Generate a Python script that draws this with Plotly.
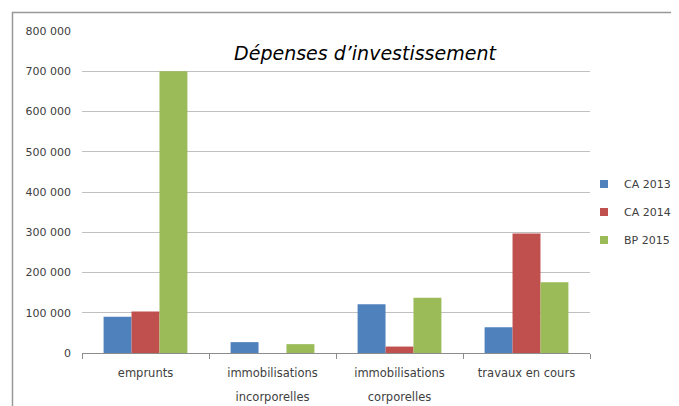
import plotly.graph_objects as go

categories = ["emprunts", "immobilisations incorporelles", "immobilisations corporelles", "travaux en cours"]
category_labels = ["emprunts", "immobilisations<br><br>incorporelles", "immobilisations<br><br>corporelles", "travaux en cours"]
series_names = ["CA 2013", "CA 2014", "BP 2015"]
ca_2013 = [90000, 27000, 121000, 64000]
ca_2014 = [103000, 0, 16000, 297000]
bp_2015 = [700000, 22000, 137000, 176000]
colors = ["#4F81BD", "#C0504D", "#9BBB59"]
tick_vals = [0, 100000, 200000, 300000, 400000, 500000, 600000, 700000, 800000]
tick_text = ["0", "100 000", "200 000", "300 000", "400 000", "500 000", "600 000", "700 000", "800 000"]

# page body has an 8px margin, so the figure is drawn 8px smaller and offset
W, H = 671, 398
L, R, T, B = 74, 89, 23, 53
pw, ph = W - L - R, H - T - B

LABEL_FONT = "DejaVu Sans, Liberation Sans, sans-serif"

fig = go.Figure()
for i, (name, vals) in enumerate(zip(series_names, [ca_2013, ca_2014, bp_2015])):
    fig.add_trace(go.Bar(x=categories, y=vals, name=name, marker_color=colors[i],
                         marker_line_width=0, showlegend=False))
# legend entries with small square swatches
for i, name in enumerate(series_names):
    fig.add_trace(go.Scatter(x=[None], y=[None], mode="markers", name=name,
                             marker=dict(symbol="square", size=8, color=colors[i]),
                             legendgroup=name, showlegend=True))

fig.update_layout(
    width=W, height=H,
    margin=dict(l=L, r=R, t=T, b=B, autoexpand=False),
    paper_bgcolor="white", plot_bgcolor="white",
    barmode="group", bargap=0.34, bargroupgap=0,
    font=dict(family=LABEL_FONT, size=11, color="#404040"),
    title=dict(text="<i>Dépenses d’investissement</i>", x=357 / W, xref="container",
               y=1 - 45 / H, yref="container", xanchor="center", yanchor="middle",
               font=dict(family="DejaVu Sans, sans-serif", size=19, color="#000000")),
    legend=dict(x=(584 - 8 - L) / pw, y=(353 - 212) / ph, xanchor="left", yanchor="middle",
                font=dict(size=11, color="#404040"), tracegroupgap=9, itemwidth=30,
                bgcolor="rgba(0,0,0,0)"),
    xaxis=dict(showgrid=False, showline=True, linecolor="#8c8c8c", linewidth=1,
               ticks="outside", tickson="boundaries", ticklen=5, tickcolor="#8c8c8c",
               tickvals=categories, ticktext=[f'<span style="font-size:11.5px">{t}</span>' for t in category_labels],
               tickfont=dict(size=9.23, color="#404040"), automargin=False,
               ticklabelstandoff=12),
    yaxis=dict(range=[0, 800000], tickvals=tick_vals, ticktext=tick_text,
               showgrid=True, gridcolor="#c0c0c0", gridwidth=1, zeroline=False,
               showline=False, ticks="", tickfont=dict(size=11, color="#404040"),
               ticklabelstandoff=10, automargin=False),
    shapes=[dict(type="rect", xref="paper", yref="paper",
                 x0=(4.5 - L) / pw, x1=(W + 20 - L) / pw,
                 y0=(H - B - (H + 20)) / ph, y1=(H - B - 4.5) / ph,
                 line=dict(color="#999999", width=1.5), fillcolor="rgba(0,0,0,0)", layer="below")],
)

fig.write_html("out.html")
